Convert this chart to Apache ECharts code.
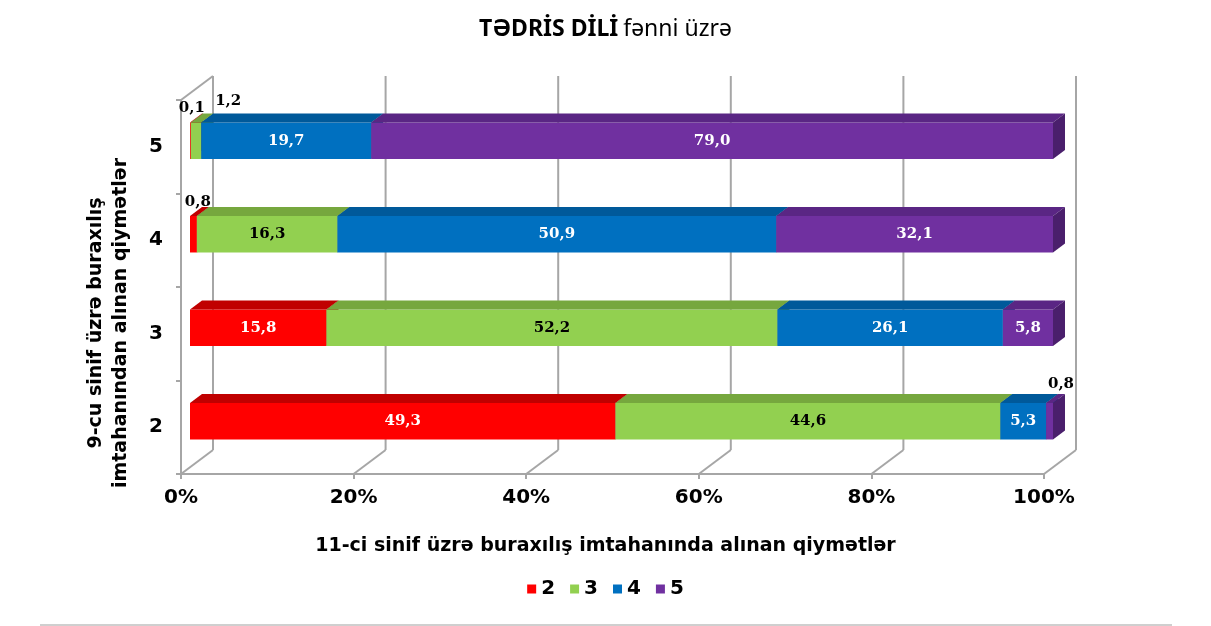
<!DOCTYPE html>
<html>
<head>
<meta charset="utf-8">
<script src="https://cdn.jsdelivr.net/npm/echarts@6/dist/echarts.min.js"></script>
<style>
  html, body { margin: 0; padding: 0; background: #fff; }
  #chart { width: 1211px; height: 626px; }
</style>
</head>
<body>
<div id="chart"></div>
<script>
// 9-cu sinif qiymətləri (y oxu)
var categories = ['2', '3', '4', '5'];
// 11-ci sinif qiymətləri (seriyalar)
var grades = ['2', '3', '4', '5'];
var grade2 = [49.3, 15.8, 0.8, 0.1];
var grade3 = [44.6, 52.2, 16.3, 1.2];
var grade4 = [5.3, 26.1, 50.9, 19.7];
var grade5 = [0.8, 5.8, 32.1, 79.0];
var xTicks = [0, 20, 40, 60, 80, 100];

var seriesValues = [grade2, grade3, grade4, grade5];
var frontColors = ['#FF0000', '#92D050', '#0070C0', '#7030A0'];
var topColors = ['#C00000', '#76A73E', '#00599A', '#5A2684'];
var sideColors = ['#A00000', '#5F8A30', '#004A80', '#4A1F6C'];
var labelColors = ['#fff', '#000', '#fff', '#fff'];
// kiçik qiymətlərin yazısı üçün sürüşmə
var smallDx = [1, 27, 6, 8];
var smallDy = [-5, -12, -10, -10];

// 3D görünüş: arxa divar və sütunun dərinliyi
var WALL_DX = 32, WALL_DY = -24;
var BAR_OX = 9, BAR_OY = -6, BAR_DX = 12, BAR_DY = -9;
var GRID_COLOR = '#A6A6A6';

function fmt(v) {
    return v.toFixed(1).replace('.', ',');
}

// 100% yığım üçün başlanğıc və son nöqtələr
function buildData(gi) {
    return categories.map(function (c, ci) {
        var total = 0, start = 0;
        seriesValues.forEach(function (arr, k) {
            total += arr[ci];
            if (k < gi) start += arr[ci];
        });
        var val = seriesValues[gi][ci];
        return [start / total * 100, (start + val) / total * 100, ci, val];
    });
}

function renderFrame(params, api) {
    var cs = params.coordSys;
    var x = api.coord([api.value(0), 0])[0];
    var bottom = cs.y + cs.height;
    var top = cs.y;
    var style = { stroke: GRID_COLOR, lineWidth: 2 };
    var children = [
        { type: 'line', shape: { x1: x + WALL_DX, y1: bottom + WALL_DY, x2: x + WALL_DX, y2: top + WALL_DY }, style: style },
        { type: 'line', shape: { x1: x, y1: bottom, x2: x + WALL_DX, y2: bottom + WALL_DY }, style: style }
    ];
    if (api.value(0) === 0) {
        children.push({ type: 'line', shape: { x1: x, y1: top, x2: x + WALL_DX, y2: top + WALL_DY }, style: style });
    }
    return { type: 'group', children: children };
}

function makeRender(gi) {
    return function (params, api) {
        var ci = api.value(2);
        var s = api.coord([api.value(0), ci]);
        var e = api.coord([api.value(1), ci]);
        var band = api.size([0, 1])[1];
        var h = band * 0.39;
        var x0 = s[0] + BAR_OX, x1 = e[0] + BAR_OX;
        var yT = s[1] + BAR_OY - h / 2, yB = yT + h;
        var val = api.value(3);
        var children = [
            { type: 'rect', shape: { x: x0, y: yT, width: x1 - x0, height: h }, style: { fill: frontColors[gi] } },
            { type: 'polygon', shape: { points: [[x0, yT], [x1, yT], [x1 + BAR_DX, yT + BAR_DY], [x0 + BAR_DX, yT + BAR_DY]] }, style: { fill: topColors[gi] } },
            { type: 'polygon', shape: { points: [[x1, yT], [x1 + BAR_DX, yT + BAR_DY], [x1 + BAR_DX, yB + BAR_DY], [x1, yB]] }, style: { fill: sideColors[gi] } }
        ];
        var font = 'bold 15px "DejaVu Serif"';
        if (val < 2) {
            children.push({ type: 'text', x: x1 + smallDx[gi], y: yT + BAR_DY + smallDy[gi], style: { text: fmt(val), fill: '#000', font: font, align: 'center', verticalAlign: 'middle' } });
        } else {
            children.push({ type: 'text', x: (x0 + x1) / 2, y: (yT + yB) / 2, style: { text: fmt(val), fill: labelColors[gi], font: font, align: 'center', verticalAlign: 'middle' } });
        }
        return { type: 'group', children: children };
    };
}

var series = [{
    type: 'custom',
    name: 'frame',
    renderItem: renderFrame,
    data: xTicks.map(function (v) { return [v]; }),
    encode: { x: 0 },
    silent: true,
    z: 1
}];
grades.forEach(function (g, gi) {
    series.push({
        type: 'custom',
        name: g,
        renderItem: makeRender(gi),
        data: buildData(gi),
        encode: { x: [0, 1], y: 2 },
        itemStyle: { color: frontColors[gi] },
        z: 2 + gi
    });
});

var myChart = echarts.init(document.getElementById('chart'));
var option = {
    animation: false,
    title: {
        text: '{a|TƏDRİS DİLİ} {b|fənni üzrə}',
        left: 'center',
        top: 13,
        textStyle: {
            rich: {
                a: { fontFamily: 'Noto Sans', fontWeight: 'bold', fontSize: 23, color: '#000' },
                b: { fontFamily: 'Noto Sans', fontWeight: 'normal', fontSize: 23, color: '#000' }
            }
        }
    },
    legend: {
        data: grades,
        top: 574,
        left: 'center',
        icon: 'rect',
        itemWidth: 9,
        itemHeight: 9,
        itemGap: 15,
        textStyle: { fontFamily: 'DejaVu Sans', fontWeight: 'bold', fontSize: 20, color: '#000' }
    },
    grid: { left: 181, right: 167, top: 100, bottom: 152 },
    xAxis: {
        type: 'value',
        min: 0,
        max: 100,
        interval: 20,
        axisLine: { show: true, lineStyle: { color: GRID_COLOR, width: 2 } },
        axisTick: { show: true, length: 5, lineStyle: { color: GRID_COLOR, width: 2 } },
        splitLine: { show: false },
        axisLabel: {
            formatter: '{value}%',
            margin: 14,
            fontFamily: 'DejaVu Sans',
            fontWeight: 'bold',
            fontSize: 20,
            color: '#000'
        }
    },
    yAxis: {
        type: 'category',
        data: categories,
        axisLine: { show: true, lineStyle: { color: GRID_COLOR, width: 2 } },
        axisTick: { show: true, length: 5, lineStyle: { color: GRID_COLOR, width: 2 } },
        axisLabel: {
            margin: 18,
            fontFamily: 'DejaVu Sans',
            fontWeight: 'bold',
            fontSize: 20,
            color: '#000'
        }
    },
    graphic: [
        {
            type: 'text',
            left: 'center',
            top: 537,
            style: {
                text: '11-ci sinif üzrə buraxılış imtahanında alınan qiymətlər',
                font: 'bold 19px "DejaVu Sans"',
                fill: '#000'
            }
        },
        {
            type: 'text',
            x: 109,
            y: 323,
            rotation: Math.PI / 2,
            style: {
                text: '9-cu sinif üzrə buraxılış\nimtahanından alınan qiymətlər',
                font: 'bold 19px "DejaVu Sans"',
                lineHeight: 25,
                align: 'center',
                verticalAlign: 'middle',
                fill: '#000'
            }
        },
        {
            type: 'line',
            shape: { x1: 40, y1: 625, x2: 1172, y2: 625 },
            style: { stroke: '#BFBFBF', lineWidth: 1.5 }
        }
    ],
    series: series
};
myChart.setOption(option);
</script>
</body>
</html>
